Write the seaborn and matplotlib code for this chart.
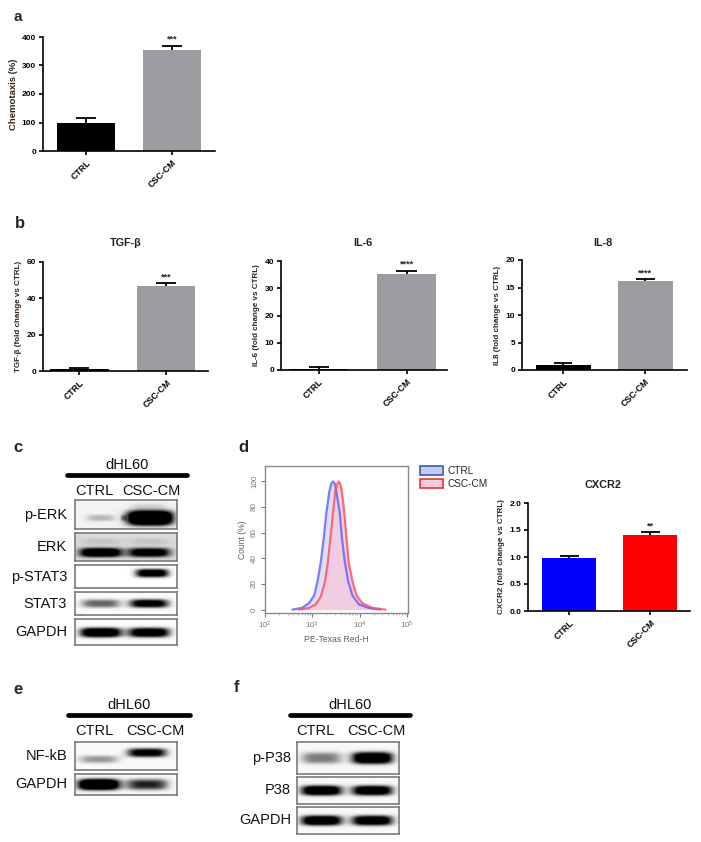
import numpy as np
import pandas as pd
import matplotlib
matplotlib.use("Agg")
import matplotlib.pyplot as plt
import seaborn as sns
from matplotlib.patches import Patch
from matplotlib.ticker import LogLocator, LogFormatterMathtext, NullFormatter

sns.set_theme(style="ticks")
plt.rcParams['font.family'] = ['Liberation Sans', 'DejaVu Sans']

# ---------------- data ----------------
groups = ["CTRL", "CSC-CM"]

chemotaxis_mean = [100, 353]
chemotaxis_err = [17, 17]

tgfb_mean = [0.9, 47.0]
tgfb_err = [0.6, 1.3]
il6_mean = [0.45, 35.2]
il6_err = [0.55, 1.3]
il8_mean = [0.97, 16.2]
il8_err = [0.25, 0.35]
cxcr2_mean = [0.99, 1.40]
cxcr2_err = [0.02, 0.06]

sig_a = "***"
sig_b = ["***", "****", "****"]
sig_cxcr2 = "**"

# flow cytometry histogram (PE-Texas Red-H vs Count %)
flow_ctrl_x = [380, 617, 851, 1096, 1288, 1514, 1738, 1995, 2291, 2512, 2754,
               3020, 3162, 3802, 4266, 4898, 5754, 7079, 9772, 15849, 27542]
flow_ctrl_y = [0, 1.5, 5, 11, 22, 37, 55, 76, 92, 98, 100,
               98, 94, 76, 55, 37, 22, 11, 4, 1.3, 0]
flow_csc_x = [525, 851, 1175, 1514, 1862, 2138, 2455, 2754, 3090, 3388, 3631,
              3890, 4169, 4677, 5248, 5888, 7079, 8710, 11482, 18621, 35481]
flow_csc_y = [0, 1.3, 4, 10, 22, 37, 58, 76, 93, 98, 100,
              98, 94, 78, 58, 37, 22, 11, 5, 1.5, 0]

# western blots: relative band intensities (CTRL, CSC-CM)
blot_c_labels = ["p-ERK", "ERK", "p-STAT3", "STAT3", "GAPDH"]
blot_c_ctrl = [0.30, 1.10, 0.0, 0.65, 1.30]
blot_c_csc = [1.60, 0.95, 1.20, 1.10, 1.20]
blot_e_labels = ["NF-kB", "GAPDH"]
blot_e_ctrl = [0.45, 1.50]
blot_e_csc = [1.05, 0.85]
blot_f_labels = ["p-P38", "P38", "GAPDH"]
blot_f_ctrl = [0.55, 1.25, 1.25]
blot_f_csc = [1.30, 1.20, 1.20]

# ---------------- figure ----------------
W, H = 701, 842
fig = plt.figure(figsize=(W / 100, H / 100), dpi=100)


def add_ax(x0, y0, x1, y1):
    return fig.add_axes([x0 / W, 1 - y1 / H, (x1 - x0) / W, (y1 - y0) / H])


def ftext(x, y, s, **kw):
    return fig.text(x / W, 1 - y / H, s, **kw)


LABEL_COL = "#2e2218"


def bar_panel(rect, means, errs, colors, ylim, yticks, ylabel, stars, xlim,
              width=0.67, ytl=None):
    ax = add_ax(*rect)
    df = pd.DataFrame({"group": groups, "value": means})
    sns.barplot(data=df, x="group", y="value", hue="group", palette=colors,
                width=width, ax=ax, legend=False, saturation=1,
                edgecolor="none", errorbar=None, zorder=2)
    xs = np.array([0, 1])
    tops = np.array(means) + np.array(errs)
    ax.vlines(xs, means, tops, color="black", lw=1.3, zorder=3)
    ax.hlines(tops, xs - 0.115, xs + 0.115, color="black", lw=1.3, zorder=3)
    ax.set_xlim(*xlim)
    ax.set_ylim(*ylim)
    ax.set_yticks(yticks)
    if ytl is not None:
        ax.set_yticklabels(ytl)
    sns.despine(ax=ax)
    for s in ["left", "bottom"]:
        ax.spines[s].set_linewidth(1.2)
        ax.spines[s].set_color("black")
    ax.tick_params(axis="both", width=1.2, length=3, labelsize=6,
                   colors="black", pad=2)
    ax.set_xticks([0, 1])
    ax.set_xticklabels(groups, rotation=45, ha="right",
                       rotation_mode="anchor", fontsize=6.3, fontweight="bold")
    for t in ax.get_yticklabels():
        t.set_fontweight("bold")
    ax.set_xlabel("")
    ax.set_ylabel(ylabel, fontsize=5.8, fontweight="bold", color=LABEL_COL,
                  labelpad=3)
    top = means[1] + errs[1]
    ax.text(1, top + (ylim[1] - ylim[0]) * 0.055, stars, ha="center",
            va="center", fontsize=6.5, fontweight="bold")
    return ax


# ---- panel a ----
ftext(13, 17, "a", fontsize=11, fontweight="bold", va="center")
ax_a = bar_panel((43, 37, 215, 151), chemotaxis_mean, chemotaxis_err,
                 ["#000000", "#9d9da1"], (0, 400), [0, 100, 200, 300, 400],
                 "Chemotaxis (%)", sig_a, (-0.5, 1.5), width=0.67)
ax_a.yaxis.label.set_fontsize(6.8)

# ---- panel b ----
ftext(15, 223, "b", fontsize=12, fontweight="bold", va="center")
b_specs = [
    ((43, 262, 208, 371), tgfb_mean, tgfb_err, (0, 60), [0, 20, 40, 60],
     "TGF-β (fold change vs CTRL)", (-0.42, 1.48), "TGF-β", 126),
    ((281, 261, 447, 370), il6_mean, il6_err, (0, 40), [0, 10, 20, 30, 40],
     "IL-6 (fold change vs CTRL)", (-0.43, 1.46), "IL-6", 363),
    ((522, 260, 687, 370), il8_mean, il8_err, (0, 20), [0, 5, 10, 15, 20],
     "IL8 (fold change vs CTRL)", (-0.5, 1.51), "IL-8", 603),
]
for (rect, m, e, yl, yt, lab, xl, title, tx), st in zip(b_specs, sig_b):
    bar_panel(rect, m, e, ["#000000", "#9d9da1"], yl, yt, lab, st, xl,
              width=0.67)
    ftext(tx, 243, title, fontsize=7.8, fontweight="bold", ha="center",
          va="center", color="#222222")

# ---- panel d: CXCR2 bar ----
bar_panel((528, 503, 690, 611), cxcr2_mean, cxcr2_err,
          ["#0000ff", "#ff0000"], (0, 2.0), [0, 0.5, 1.0, 1.5, 2.0],
          "CXCR2 (fold change vs CTRL)", sig_cxcr2, (-0.51, 1.49), width=0.67,
          ytl=["0.0", "0.5", "1.0", "1.5", "2.0"])
ftext(603, 485, "CXCR2", fontsize=7.8, fontweight="bold", ha="center",
      va="center", color="#222222")

# ---- panel d: flow histogram ----
ftext(238, 448, "d", fontsize=12, fontweight="bold", va="center")
axf = add_ax(265, 466, 408, 613)
axf.set_xscale("log")
axf.fill_between(flow_ctrl_x, flow_ctrl_y, color="#dedef7", lw=0, zorder=1)
axf.fill_between(flow_csc_x, flow_csc_y, color="#f3cde0", lw=0, alpha=0.95,
                 zorder=2)
sns.lineplot(x=flow_ctrl_x, y=flow_ctrl_y, sort=False, color="#5c5cff",
             lw=1.6, alpha=0.8, ax=axf, zorder=3)
sns.lineplot(x=flow_csc_x, y=flow_csc_y, sort=False, color="#ff4d5e",
             lw=1.6, alpha=0.8, ax=axf, zorder=4)
axf.set_xlim(100, 1.06e5)
axf.set_ylim(-2.6, 112)
axf.set_yticks([0, 20, 40, 60, 80, 100])
axf.xaxis.set_major_locator(LogLocator(base=10, numticks=10))
axf.xaxis.set_major_formatter(LogFormatterMathtext())
axf.xaxis.set_minor_locator(LogLocator(base=10, subs=np.arange(2, 10) * 1.0,
                                       numticks=20))
axf.xaxis.set_minor_formatter(NullFormatter())
axf.set_xticks([1e2, 1e3, 1e4, 1e5])
for s in axf.spines.values():
    s.set_color("#8a8a8a")
    s.set_linewidth(1.0)
axf.tick_params(axis="both", which="major", colors="#777777", labelsize=5.8,
                length=3, width=0.8, pad=2)
axf.tick_params(axis="both", which="minor", colors="#999999", length=1.5,
                width=0.5)
axf.tick_params(axis="y", labelrotation=90)
for t in axf.get_yticklabels():
    t.set_va("center")
axf.set_xlabel("PE-Texas Red-H", fontsize=6.2, color="#6a5a5a", labelpad=3)
axf.set_ylabel("Count (%)", fontsize=6.2, color="#6a5a5a", labelpad=3)

handles = [Patch(facecolor="#c3cbee", edgecolor="#3d5aa8", lw=1.2, label="CTRL"),
           Patch(facecolor="#f8c8dc", edgecolor="#e8303a", lw=1.2, label="CSC-CM")]
fig.legend(handles=handles, loc="upper left",
           bbox_to_anchor=(416 / W, 1 - 462 / H), frameon=False, fontsize=7.2,
           handlelength=2.3, handleheight=1.0, handletextpad=0.4,
           labelspacing=0.3, borderaxespad=0)


# ---------------- western blots ----------------
def blot(rect, ctrl, csc, bg, cy=0.55, sy=0.2, hw=0.2, lanes=(0.25, 0.72),
         extra=()):
    ax = add_ax(*rect)
    nx, ny = 240, 60
    X, Y = np.meshgrid(np.linspace(0, 1, nx), np.linspace(0, 1, ny))
    img = np.full_like(X, bg)
    bands = [(lanes[0], ctrl, cy, hw, sy), (lanes[1], csc, cy, hw, sy)]
    bands += list(extra)
    for cx, amp, yy, w, s in bands:
        img = img + amp * np.exp(-np.abs((X - cx) / w) ** 4) * \
            np.exp(-np.abs((Y - yy) / s) ** 3)
    ax.imshow(np.clip(img, 0, 1), cmap="Greys", vmin=0, vmax=1.0,
              aspect="auto", extent=(0, 1, 1, 0), interpolation="bilinear")
    ax.set_xticks([])
    ax.set_yticks([])
    for s in ax.spines.values():
        s.set_color("#7a7a7a")
        s.set_linewidth(1.2)
    return ax


def blot_header(letter, lx, ly, x0, x1, ctrl_x, csc_x, lab_y=465):
    ftext(lx, ly, letter, fontsize=12, fontweight="bold", va="center")
    ftext((x0 + x1) / 2, lab_y, "dHL60", fontsize=10.5, ha="center",
          va="center", color="#111111")
    line_y = 1 - (lab_y + 10) / H
    fig.add_artist(plt.Line2D([x0 / W, x1 / W], [line_y, line_y],
                              color="black", lw=3.4))
    ftext(ctrl_x, lab_y + 26, "CTRL", fontsize=10.5, ha="center", va="center",
          color="#111111")
    ftext(csc_x, lab_y + 26, "CSC-CM", fontsize=10.5, ha="center",
          va="center", color="#111111")


# panel c
blot_header("c", 13, 448, 67, 187, 94, 151, lab_y=465)
c_rows = [(500, 529), (533, 561), (565, 588), (592, 615), (619, 645)]
c_bg = [0.10, 0.24, 0.0, 0.03, 0.03]
c_style = [
    None,
    dict(cy=0.70, sy=0.17, hw=0.21,
         extra=[(0.25, 0.10, 0.3, 0.2, 0.12), (0.72, 0.10, 0.3, 0.2, 0.12)]),
    dict(cy=0.35, sy=0.2, lanes=(0.25, 0.75), hw=0.17),
    dict(cy=0.5, sy=0.2, hw=0.2),
    dict(cy=0.52, sy=0.2, hw=0.21),
]
for i, ((y0, y1), lab) in enumerate(zip(c_rows, blot_c_labels)):
    if i == 0:
        blot((75, y0, 177, y1), blot_c_ctrl[i], 0, c_bg[i],
             cy=0.62, sy=0.12, hw=0.14,
             extra=[(0.72, 0.15, 0.2, 0.17, 0.1),
                    (0.47, 0.3, 0.62, 0.03, 0.1),
                    (0.73, blot_c_csc[i], 0.62, 0.23, 0.27)])
    else:
        blot((75, y0, 177, y1), blot_c_ctrl[i], blot_c_csc[i], c_bg[i],
             **c_style[i])
    ftext(67, (y0 + y1) / 2, lab, fontsize=10.5, ha="right", va="center",
          color="#111111")

# panel e
blot_header("e", 13, 689, 68, 190, 94, 155, lab_y=705)
e_rows = [(742, 770), (774, 795)]
for i, ((y0, y1), lab) in enumerate(zip(e_rows, blot_e_labels)):
    if i == 0:
        blot((75, y0, 177, y1), blot_e_ctrl[i], 0, 0.05, cy=0.62, sy=0.15,
             hw=0.2, lanes=(0.23, 0.70),
             extra=[(0.70, blot_e_csc[i], 0.38, 0.2, 0.17)])
    else:
        blot((75, y0, 177, y1), blot_e_ctrl[i], blot_e_csc[i], 0.05,
             cy=0.5, sy=0.28, hw=0.21, lanes=(0.23, 0.70))
    ftext(67, (y0 + y1) / 2, lab, fontsize=10.5, ha="right", va="center",
          color="#111111")

# panel f
blot_header("f", 234, 688, 290, 410, 315, 376, lab_y=705)
f_rows = [(742, 774), (777, 804), (807, 834)]
for i, ((y0, y1), lab) in enumerate(zip(f_rows, blot_f_labels)):
    blot((297, y0, 399, y1), blot_f_ctrl[i], blot_f_csc[i], 0.05,
         cy=0.5, sy=0.2, hw=0.21, lanes=(0.24, 0.74))
    ftext(291, (y0 + y1) / 2, lab, fontsize=10.5, ha="right", va="center",
          color="#111111")

fig.savefig("out.png", dpi=100, facecolor="white")
